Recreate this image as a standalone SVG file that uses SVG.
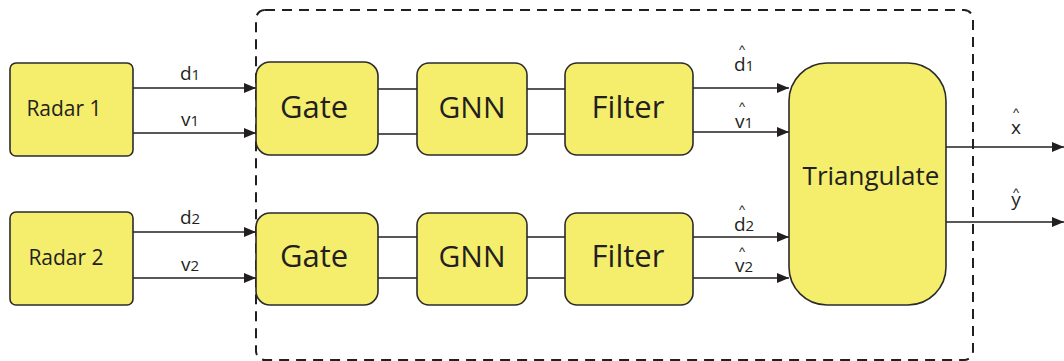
<svg xmlns="http://www.w3.org/2000/svg" width="1064" height="361" viewBox="0 0 1064 361">
<defs>
<marker id="ah" markerWidth="12" markerHeight="10" refX="12" refY="5" orient="auto" markerUnits="userSpaceOnUse">
<path d="M0,0 L12,5 L0,10 Z" fill="#231f20"/>
</marker>
<style>
.box{fill:#f5ee6d;stroke:#2b2b2b;stroke-width:1.6}
.ln{stroke:#231f20;stroke-width:1.5;fill:none}
.t{font-family:"Open Sans","Liberation Sans",sans-serif;fill:#231f20;text-anchor:middle}
.lab{font-family:"Open Sans","Liberation Sans",sans-serif;fill:#231f20;font-size:19px;text-anchor:middle}
.hat{font-family:"Liberation Sans",sans-serif;font-size:13px}
</style>
</defs>
<rect x="256" y="10" width="717" height="350" rx="9" fill="none" stroke="#231f20" stroke-width="2" stroke-dasharray="10,7"/>
<g id="connectors">
<path class="ln" d="M133,88 H256" marker-end="url(#ah)"/>
<path class="ln" d="M133,133 H256" marker-end="url(#ah)"/>
<path class="ln" d="M133,232 H256" marker-end="url(#ah)"/>
<path class="ln" d="M133,278 H256" marker-end="url(#ah)"/>
<path class="ln" d="M378,89 H417 M378,134 H417 M527,89 H565 M527,134 H565"/>
<path class="ln" d="M378,237 H417 M378,278 H417 M527,237 H565 M527,278 H565"/>
<path class="ln" d="M693,88 H789" marker-end="url(#ah)"/>
<path class="ln" d="M693,132 H789" marker-end="url(#ah)"/>
<path class="ln" d="M693,237 H789" marker-end="url(#ah)"/>
<path class="ln" d="M693,278 H789" marker-end="url(#ah)"/>
<path class="ln" d="M946,147 H1064" marker-end="url(#ah)"/>
<path class="ln" d="M946,222 H1064" marker-end="url(#ah)"/>
<text class="lab" x="190" y="80">d<tspan font-size="15">1</tspan></text>
<text class="lab" x="190" y="126">v<tspan font-size="15">1</tspan></text>
<text class="lab" x="190" y="224">d<tspan font-size="15">2</tspan></text>
<text class="lab" x="190" y="271">v<tspan font-size="15">2</tspan></text>
<text class="lab"><tspan class="hat" x="742" y="54">^</tspan><tspan x="744" y="71">d<tspan font-size="15">1</tspan></tspan></text>
<text class="lab"><tspan class="hat" x="742" y="111">^</tspan><tspan x="744" y="128">v<tspan font-size="15">1</tspan></tspan></text>
<text class="lab"><tspan class="hat" x="742" y="214">^</tspan><tspan x="744" y="231">d<tspan font-size="15">2</tspan></tspan></text>
<text class="lab"><tspan class="hat" x="742" y="256">^</tspan><tspan x="744" y="272">v<tspan font-size="15">2</tspan></tspan></text>
<text class="lab"><tspan class="hat" x="1016" y="117">^</tspan><tspan x="1016" y="134">x</tspan></text>
<text class="lab"><tspan class="hat" x="1016" y="197">^</tspan><tspan x="1016" y="206">y</tspan></text>
</g>
<g id="radar1"><rect class="box" x="10" y="63" width="123" height="93" rx="6"/><text class="t" x="64" y="116" font-size="21">Radar 1</text></g>
<g id="radar2"><rect class="box" x="10" y="212" width="123" height="93" rx="6"/><text class="t" x="66" y="265" font-size="21">Radar 2</text></g>
<g id="gate1"><rect class="box" x="256" y="62" width="122" height="93" rx="14"/><text class="t" x="314" y="118" font-size="31">Gate</text></g>
<g id="gate2"><rect class="box" x="256" y="213" width="122" height="92" rx="14"/><text class="t" x="314" y="267" font-size="31">Gate</text></g>
<g id="gnn1"><rect class="box" x="417" y="63" width="110" height="92" rx="12"/><text class="t" x="472" y="118" font-size="30">GNN</text></g>
<g id="gnn2"><rect class="box" x="417" y="213" width="110" height="92" rx="12"/><text class="t" x="472" y="267" font-size="30">GNN</text></g>
<g id="filter1"><rect class="box" x="565" y="63" width="128" height="92" rx="12"/><text class="t" x="628" y="118" font-size="31">Filter</text></g>
<g id="filter2"><rect class="box" x="565" y="213" width="128" height="92" rx="12"/><text class="t" x="628" y="267" font-size="31">Filter</text></g>
<g id="triangulate"><rect class="box" x="789" y="63" width="157" height="242" rx="38"/><text class="t" x="871" y="185" font-size="26">Triangulate</text></g>
</svg>
